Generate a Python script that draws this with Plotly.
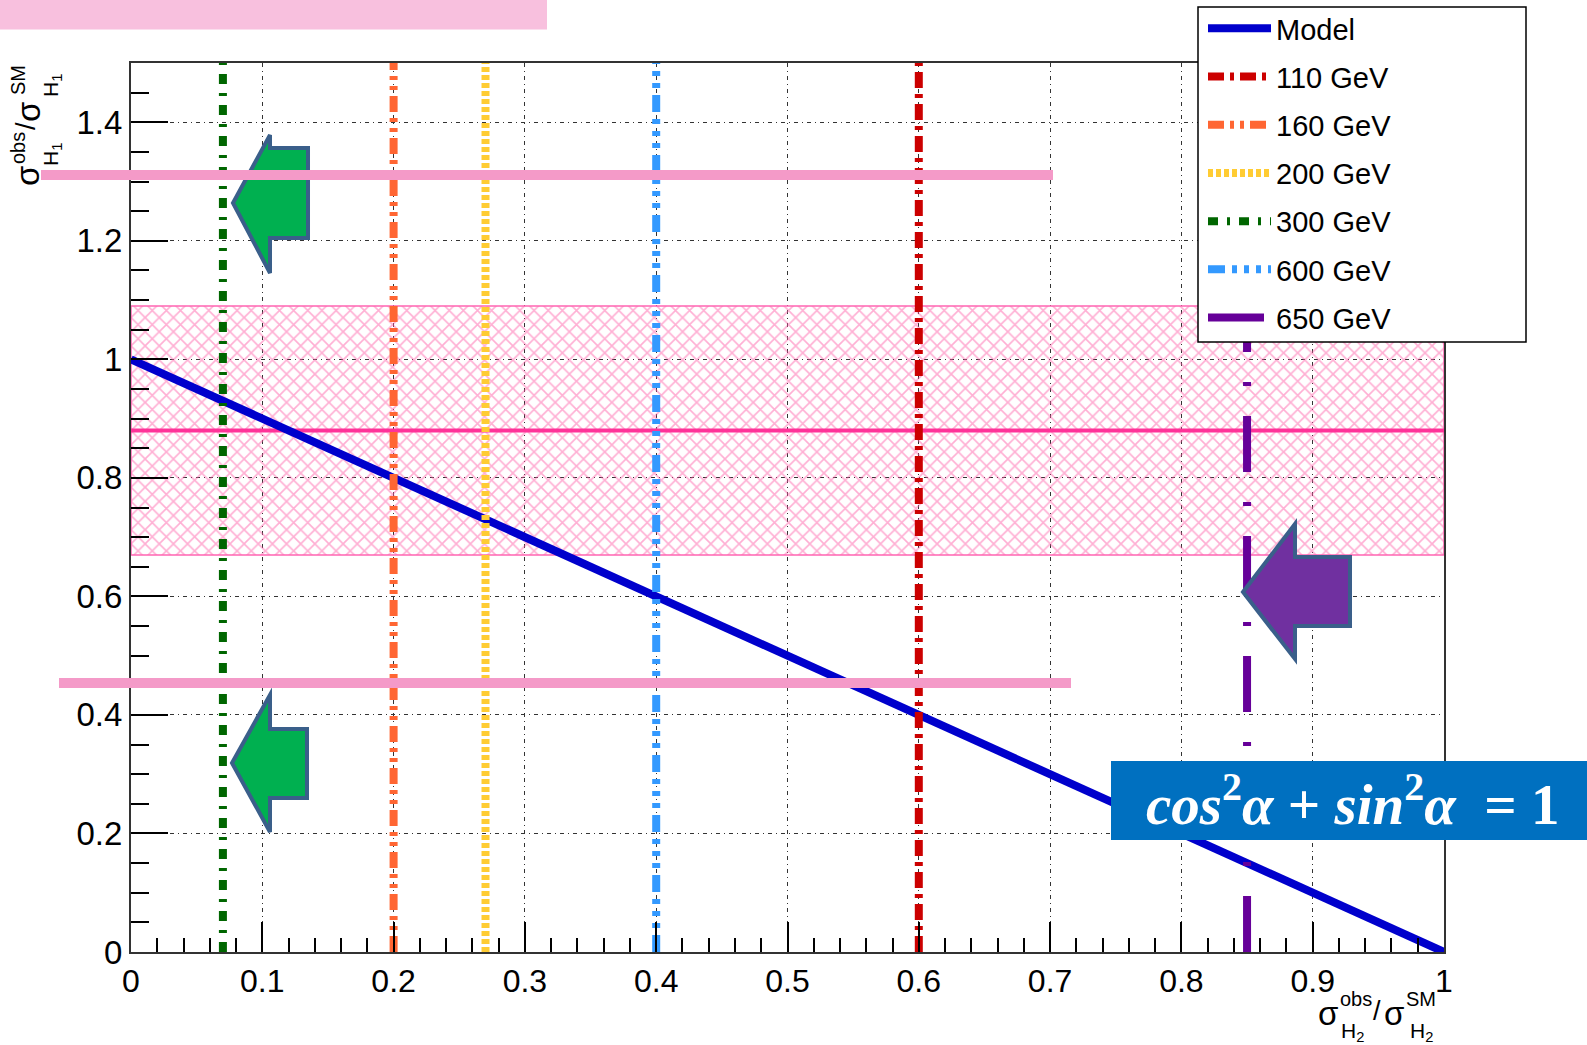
import plotly.graph_objects as go

# Canvas and plot-area geometry (pixels)
W, H = 1587, 1045
PL, PR, PT, PB = 131, 1444, 63, 952

# ---- data -------------------------------------------------------------
model_x = [0.0, 1.0]
model_y = [1.0, 0.0]

mass_labels = ["110 GeV", "160 GeV", "200 GeV", "300 GeV", "600 GeV", "650 GeV"]
mass_ratio = [0.60, 0.20, 0.27, 0.07, 0.40, 0.85]

band_low = 0.67
band_high = 1.09
band_central = 0.88

y_range = [0.0, 1.5]

# ---- styles -----------------------------------------------------------
mass_style = {
    "110 GeV": dict(color="#CC0000", dash="16px,6px,4px,6px"),
    "160 GeV": dict(color="#FF6633", dash="16px,6px,4px,6px,4px,6px"),
    "200 GeV": dict(color="#FFCC33", dash="5px,3px"),
    "300 GeV": dict(color="#006600", dash="10px,9px,3px,9px"),
    "600 GeV": dict(color="#3399FF", dash="17px,7px,5px,7px,5px,7px,5px,7px"),
    "650 GeV": dict(color="#660099", dash="56px,30px,4px,30px"),
}
FONT = "Liberation Sans, Arial, sans-serif"


def paper(x, y):
    """Pixel position on the canvas -> paper coordinates."""
    return (x - PL) / (PR - PL), (PB - y) / (PB - PT)


fig = go.Figure()

# observed band with cross-hatching
fig.add_trace(go.Scatter(
    x=[0, 1, 1, 0, 0],
    y=[band_low, band_low, band_high, band_high, band_low],
    mode="lines", fill="toself", fillcolor="rgba(0,0,0,0)",
    fillpattern=dict(shape="x", fgcolor="#FF5FA8", bgcolor="rgba(0,0,0,0)",
                     size=10, solidity=0.3),
    line=dict(color="#FF66B2", width=1.5),
    showlegend=False, hoverinfo="skip",
))
fig.add_trace(go.Scatter(
    x=[0, 1], y=[band_central, band_central], mode="lines",
    line=dict(color="#FF3399", width=4), showlegend=False, hoverinfo="skip",
))

# model line
fig.add_trace(go.Scatter(
    x=model_x, y=model_y, mode="lines", name="Model",
    legendgroup="Model",
    line=dict(color="#0000CC", width=8),
))

# vertical lines for each mass hypothesis
for label, r in zip(mass_labels, mass_ratio):
    st = mass_style[label]
    fig.add_trace(go.Scatter(
        x=[r, r], y=y_range, mode="lines", name=label, legendgroup=label,
        line=dict(color=st["color"], width=8, dash=st["dash"]),
    ))

shapes = []

# legend frame
lx0, ly0 = paper(1198, 7)
lx1, ly1 = paper(1526, 342)
shapes.append(dict(type="rect", xref="paper", yref="paper", x0=lx0, y0=ly1,
                   x1=lx1, y1=ly0, fillcolor="white",
                   line=dict(color="black", width=1.5), layer="above"))


def arrow_path(pts):
    pp = [paper(x, y) for x, y in pts]
    return "M " + " L ".join(f"{a:.5f},{b:.5f}" for a, b in pp) + " Z"


arrow_outline = "#3A5F8A"
green_arrows = [
    [(233, 203), (270, 135), (270, 148), (308, 148), (308, 238), (270, 238), (270, 273)],
    [(232, 763), (270, 695), (270, 729), (307, 729), (307, 798), (270, 798), (270, 832)],
]
for pts in green_arrows:
    shapes.append(dict(type="path", xref="paper", yref="paper", path=arrow_path(pts),
                       fillcolor="#00B050", line=dict(color=arrow_outline, width=4),
                       layer="above"))
purple_arrow = [(1243, 592), (1295, 524), (1295, 557), (1350, 557), (1350, 626),
                (1295, 626), (1295, 659)]
shapes.append(dict(type="path", xref="paper", yref="paper", path=arrow_path(purple_arrow),
                   fillcolor="#7030A0", line=dict(color=arrow_outline, width=4),
                   layer="above"))

# highlight strips
for (x0, y0, x1, y1, col) in [
    (0, 0, 547, 29.5, "#F8C0DE"),
    (41, 170, 1053, 180, "#F49AC8"),
    (59, 678, 1071, 688, "#F49AC8"),
]:
    a0, b0 = paper(x0, y0)
    a1, b1 = paper(x1, y1)
    shapes.append(dict(type="rect", xref="paper", yref="paper", x0=a0, y0=b1,
                       x1=a1, y1=b0, fillcolor=col, line=dict(width=0),
                       layer="above"))

# formula box
fx0, fy0 = paper(1111, 761)
fx1, fy1 = paper(1587, 840)
shapes.append(dict(type="rect", xref="paper", yref="paper", x0=fx0, y0=fy1,
                   x1=fx1, y1=fy0, fillcolor="#0070C0", line=dict(width=0),
                   layer="above"))

annotations = []


def text_at(x, y, text, size, angle=0, color="black", family=FONT):
    px_, py_ = paper(x, y)
    annotations.append(dict(xref="paper", yref="paper", x=px_, y=py_, text=text,
                            showarrow=False, xanchor="center", yanchor="middle",
                            textangle=angle,
                            font=dict(family=family, size=size, color=color)))


fx, fy = paper(1352, 800)
annotations.append(dict(
    xref="paper", yref="paper", x=fx, y=fy, xanchor="center", yanchor="middle",
    showarrow=False,
    text="<b><i>cos</i><sup>2</sup><i>α</i> + <i>sin</i><sup>2</sup><i>α</i>&nbsp;&nbsp;= 1</b>",
    font=dict(family="Liberation Serif, DejaVu Serif, serif", size=57, color="white"),
))

# x-axis title: sigma^obs_H2 / sigma^SM_H2
text_at(1328, 1014, "σ", 33)
text_at(1356, 999, "obs", 20)
text_at(1352, 1032, "H<sub>2</sub>", 21)
text_at(1377, 1011, "/", 27)
text_at(1394, 1014, "σ", 33)
text_at(1421, 999, "SM", 20)
text_at(1421, 1032, "H<sub>2</sub>", 21)

# y-axis title: sigma^obs_H1 / sigma^SM_H1 (rotated)
text_at(28, 176, "σ", 33, angle=-90)
text_at(18, 148, "obs", 20, angle=-90)
text_at(52, 155, "H<sub>1</sub>", 21, angle=-90)
text_at(26, 126, "/", 27, angle=-90)
text_at(28, 112, "σ", 33, angle=-90)
text_at(18, 80, "SM", 20, angle=-90)
text_at(52, 86, "H<sub>1</sub>", 21, angle=-90)

gx, gy = paper(1203, 3)

fig.update_layout(
    width=W, height=H,
    margin=dict(l=PL, r=W - PR, t=PT, b=H - PB, pad=0, autoexpand=False),
    paper_bgcolor="white", plot_bgcolor="white",
    font=dict(family=FONT, color="black"),
    shapes=shapes, annotations=annotations,
    legend=dict(
        x=gx, y=gy, xanchor="left", yanchor="top",
        bgcolor="rgba(0,0,0,0)", borderwidth=0,
        font=dict(family=FONT, size=29, color="black"),
        itemwidth=63, traceorder="grouped", tracegroupgap=7.5,
    ),
    xaxis=dict(
        range=[0, 1], tick0=0, dtick=0.1, ticks="inside", ticklen=30,
        tickwidth=1.5, tickcolor="black", showline=True, linecolor="#333",
        linewidth=2, mirror=True, zeroline=False,
        showgrid=True, gridcolor="#333", gridwidth=1, griddash="4px,4px,1px,4px",
        tickfont=dict(family=FONT, size=32, color="black"),
        minor=dict(dtick=0.02, ticks="inside", ticklen=14, tickcolor="black",
                   tickwidth=1.5, showgrid=False),
    ),
    yaxis=dict(
        range=y_range, tick0=0, dtick=0.2, ticks="inside", ticklen=37,
        tickwidth=1.5, tickcolor="black", showline=True, linecolor="#333",
        linewidth=2, mirror=True, zeroline=False,
        showgrid=True, gridcolor="#333", gridwidth=1, griddash="4px,4px,1px,4px",
        tickfont=dict(family=FONT, size=33, color="black"),
        minor=dict(dtick=0.05, ticks="inside", ticklen=18, tickcolor="black",
                   tickwidth=1.5, showgrid=False),
    ),
)

fig.write_html("out.html")
